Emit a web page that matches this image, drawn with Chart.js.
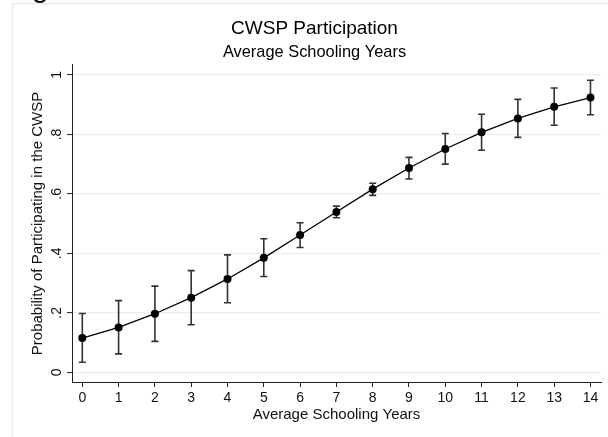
<!DOCTYPE html>
<html>
<head>
<meta charset="utf-8">
<script src="https://cdn.jsdelivr.net/npm/chart.js"></script>
<style>
  body { margin: 0; background: #fff; }
</style>
</head>
<body>
<canvas id="cwsp" width="608" height="437"></canvas>
<script>
// data block
const schoolYears = [0, 1, 2, 3, 4, 5, 6, 7, 8, 9, 10, 11, 12, 13, 14];
const probParticipate = [0.115, 0.151, 0.197, 0.251, 0.314, 0.385, 0.462, 0.539, 0.616, 0.687, 0.751, 0.807, 0.854, 0.893, 0.924];
const ciLow = [0.034, 0.062, 0.104, 0.160, 0.234, 0.322, 0.420, 0.520, 0.595, 0.650, 0.700, 0.747, 0.790, 0.831, 0.866];
const ciHigh = [0.198, 0.241, 0.290, 0.342, 0.395, 0.449, 0.503, 0.559, 0.636, 0.723, 0.803, 0.868, 0.918, 0.956, 0.982];
const yTickValues = [0, 0.2, 0.4, 0.6, 0.8, 1];
const yTickLabels = ['0', '.2', '.4', '.6', '.8', '1'];

const FONT = '"Liberation Sans", Arial, Helvetica, sans-serif';

// outer frame of the stata graph window + cut off letter at the top
const framePlugin = {
  id: 'frame',
  beforeDraw(chart) {
    const ctx = chart.ctx;
    ctx.save();
    ctx.strokeStyle = '#e4ebf0';
    ctx.lineWidth = 1.5;
    ctx.beginPath();
    ctx.moveTo(12.5, 437);
    ctx.lineTo(12.5, 3.5);
    ctx.lineTo(608, 3.5);
    ctx.stroke();
    ctx.fillStyle = '#000';
    ctx.font = '30px ' + FONT;
    ctx.textBaseline = 'alphabetic';
    ctx.fillText('g', 32, -3);
    ctx.restore();
  }
};

// error bars, drawn before the points so markers sit on top
const errorBarPlugin = {
  id: 'errorBars',
  beforeDatasetsDraw(chart) {
    const ctx = chart.ctx;
    const xs = chart.scales.x, ys = chart.scales.y;
    ctx.save();
    ctx.strokeStyle = '#333';
    ctx.lineWidth = 1.6;
    schoolYears.forEach((yr, i) => {
      const px = xs.getPixelForValue(yr);
      const top = ys.getPixelForValue(ciHigh[i]);
      const bot = ys.getPixelForValue(ciLow[i]);
      ctx.beginPath();
      ctx.moveTo(px, top); ctx.lineTo(px, bot);
      ctx.moveTo(px - 3.5, top); ctx.lineTo(px + 3.5, top);
      ctx.moveTo(px - 3.5, bot); ctx.lineTo(px + 3.5, bot);
      ctx.stroke();
    });
    ctx.restore();
  }
};

// stata style vertical y tick labels
const yLabelPlugin = {
  id: 'yLabels',
  afterDraw(chart) {
    const ctx = chart.ctx;
    const ys = chart.scales.y;
    ctx.save();
    ctx.fillStyle = '#111';
    ctx.font = '14px ' + FONT;
    ctx.textAlign = 'center';
    ctx.textBaseline = 'middle';
    yTickValues.forEach((v, i) => {
      const py = ys.getPixelForValue(v);
      ctx.save();
      ctx.translate(57, py);
      ctx.rotate(-Math.PI / 2);
      ctx.fillText(yTickLabels[i], 0, 0);
      ctx.restore();
    });
    ctx.restore();
  }
};

const data = {
  datasets: [{
    label: 'CWSP',
    data: schoolYears.map((yr, i) => ({ x: yr, y: probParticipate[i] })),
    borderColor: '#000',
    backgroundColor: '#000',
    borderWidth: 1.3,
    pointRadius: 4,
    pointBackgroundColor: '#000',
    pointBorderWidth: 0,
    tension: 0
  }]
};

const config = {
  type: 'line',
  data: data,
  options: {
    responsive: false,
    animation: false,
    layout: { padding: { left: 28, right: 7, top: 0, bottom: 0 } },
    plugins: {
      legend: { display: false },
      tooltip: { enabled: false },
      title: {
        display: true,
        text: 'CWSP Participation',
        color: '#000',
        font: { family: FONT, size: 19, weight: 'normal' },
        padding: { top: 17.3, bottom: 2.5 }
      },
      subtitle: {
        display: true,
        text: 'Average Schooling Years',
        color: '#000',
        font: { family: FONT, size: 16.4, weight: 'normal' },
        padding: { top: 0, bottom: 2.7 }
      }
    },
    scales: {
      x: {
        type: 'linear',
        min: -0.284,
        max: 14.29,
        afterBuildTicks: (s) => { s.ticks = schoolYears.map(v => ({ value: v })); },
        afterFit: (s) => { s.height = 55; },
        ticks: { color: '#111', font: { family: FONT, size: 14 }, padding: 3, maxRotation: 0, autoSkip: false },
        grid: { drawOnChartArea: false, drawTicks: true, tickLength: 5, tickColor: '#222', tickWidth: 1 },
        border: { color: '#222', width: 1 },
        title: {
          display: true,
          text: 'Average Schooling Years',
          color: '#111',
          font: { family: FONT, size: 15 },
          padding: { top: 0, bottom: 13.5 }
        }
      },
      y: {
        type: 'linear',
        min: -0.0326,
        max: 1.0336,
        afterBuildTicks: (s) => { s.ticks = yTickValues.map(v => ({ value: v })); },
        afterFit: (s) => { s.width = 44; },
        ticks: { display: false },
        grid: { color: '#e9eff3', lineWidth: 1.2, drawTicks: true, tickLength: 5, tickColor: '#222', tickWidth: 1 },
        border: { color: '#222', width: 1 },
        title: {
          display: true,
          text: 'Probability of Participating in the CWSP',
          color: '#111',
          font: { family: FONT, size: 15 },
          padding: { top: 1, bottom: 0 }
        }
      }
    }
  },
  plugins: [framePlugin, errorBarPlugin, yLabelPlugin]
};

const canvas = document.getElementById('cwsp');
const cwspChart = new Chart(canvas, config);
</script>
</body>
</html>
